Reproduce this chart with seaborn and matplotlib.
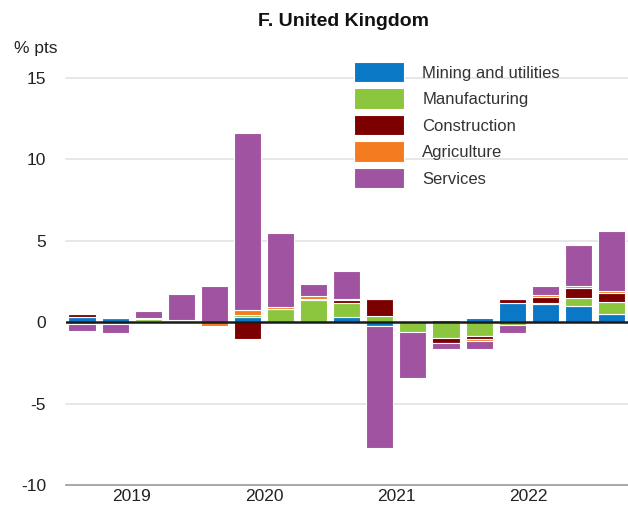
import numpy as np
import pandas as pd
import matplotlib
matplotlib.use("Agg")
import matplotlib.pyplot as plt
import seaborn as sns
from matplotlib.patches import Patch

quarters = ["2019Q1", "2019Q2", "2019Q3", "2019Q4",
            "2020Q1", "2020Q2", "2020Q3", "2020Q4",
            "2021Q1", "2021Q2", "2021Q3", "2021Q4",
            "2022Q1", "2022Q2", "2022Q3", "2022Q4",
            "2023Q1"]
year_labels = ["2019", "2020", "2021", "2022"]

series_names = ["Mining and utilities", "Manufacturing", "Construction",
                "Agriculture", "Services"]
mining = [0.30, 0.25, 0.10, 0.05, 0.00, 0.30, 0.00, 0.00, 0.30, -0.25,
          0.00, 0.15, 0.25, 1.15, 1.10, 1.00, 0.50]
manufacturing = [-0.10, -0.10, 0.10, 0.10, 0.00, 0.15, 0.80, 1.35, 0.85, 0.40,
                 -0.60, -1.00, -0.85, -0.20, 0.05, 0.50, 0.75]
construction = [0.20, 0.00, 0.00, 0.00, 0.00, -1.05, 0.00, 0.10, 0.20, 1.00,
                0.00, -0.30, -0.20, 0.25, 0.40, 0.60, 0.55]
agriculture = [0.00, 0.10, 0.05, 0.00, -0.25, 0.30, 0.15, 0.15, 0.10, 0.00,
               0.00, 0.00, -0.10, 0.00, 0.10, 0.10, 0.10]
services = [-0.45, -0.55, 0.45, 1.60, 2.20, 10.90, 4.50, 0.75, 1.70, -7.45,
            -2.85, -0.35, -0.50, -0.45, 0.55, 2.55, 3.70]

colors = ["#0b78c6", "#8cc63f", "#7d0000", "#f47b20", "#a053a0"]

sns.set_theme(style="white")
plt.rcParams["font.family"] = ["Liberation Sans", "DejaVu Sans"]

fig = plt.figure(figsize=(6.28, 5.09), dpi=100)
ax = fig.add_axes([65.5 / 628, 1 - 485 / 509, 1 - 65.5 / 628, (485 - 78) / 509])

all_series = [mining, manufacturing, construction, agriculture, services]
pos_base = np.zeros(len(quarters))
neg_base = np.zeros(len(quarters))
for name, vals, col in zip(series_names, all_series, colors):
    v = np.array(vals, dtype=float)
    bottom = np.where(v >= 0, pos_base, neg_base)
    df = pd.DataFrame({"quarter": quarters, "value": v})
    sns.barplot(data=df, x="quarter", y="value", order=quarters, color=col,
                width=0.82, errorbar=None, bottom=bottom, ax=ax,
                edgecolor="white", linewidth=0.8, saturation=1)
    pos_base = pos_base + np.where(v >= 0, v, 0)
    neg_base = neg_base + np.where(v < 0, v, 0)

ax.set_xlim(-0.5, 16.5)
ax.set_ylim(-10, 15)
ax.set_xlabel("")
ax.set_ylabel("")

# gridlines
for yv in [15, 10, 5, -5]:
    ax.axhline(yv, color="#e3e3e3", lw=1.2, zorder=0, clip_on=False)
ax.axhline(0, color="#1a1a1a", lw=1.8, zorder=5)

for s in ["left", "right", "top"]:
    ax.spines[s].set_visible(False)
ax.spines["bottom"].set_color("#999999")
ax.spines["bottom"].set_linewidth(1.2)

ax.set_yticks([15, 10, 5, 0, -5, -10])
ax.set_yticklabels(["15", "10", "5", "0", "-5", "-10"])
ax.tick_params(axis="y", length=0, pad=14, labelsize=12.5, labelcolor="#222222")

ax.set_xticks([-0.5, 3.5, 7.5, 11.5, 15.5])
ax.set_xticklabels([])
ax.set_xticks([1.5, 5.5, 9.5, 13.5], minor=True)
ax.set_xticklabels(year_labels, minor=True)
ax.tick_params(axis="x", which="major", direction="in", length=7.5, width=1.0,
               color="#999999")
ax.tick_params(axis="x", which="minor", length=0, pad=3, labelsize=12.5,
               labelcolor="#222222")

fig.text(343 / 628, 1 - 21 / 509, "F. United Kingdom", ha="center", va="center",
         fontsize=14, fontweight="bold", color="#111111")
fig.text(14 / 628, 1 - 48 / 509, "% pts", ha="left", va="center",
         fontsize=12.5, color="#222222")

handles = [Patch(facecolor=c, edgecolor="white", linewidth=0.8) for c in colors]
leg = fig.legend(handles, series_names, loc="upper left",
                 bbox_to_anchor=(354 / 628, 1 - 62 / 509),
                 frameon=False, fontsize=12, borderpad=0, borderaxespad=0,
                 handlelength=3.0, handleheight=1.5, handletextpad=1.1,
                 labelspacing=0.37)
for t in leg.get_texts():
    t.set_color("#333333")

fig.savefig("out.png", dpi=100)
